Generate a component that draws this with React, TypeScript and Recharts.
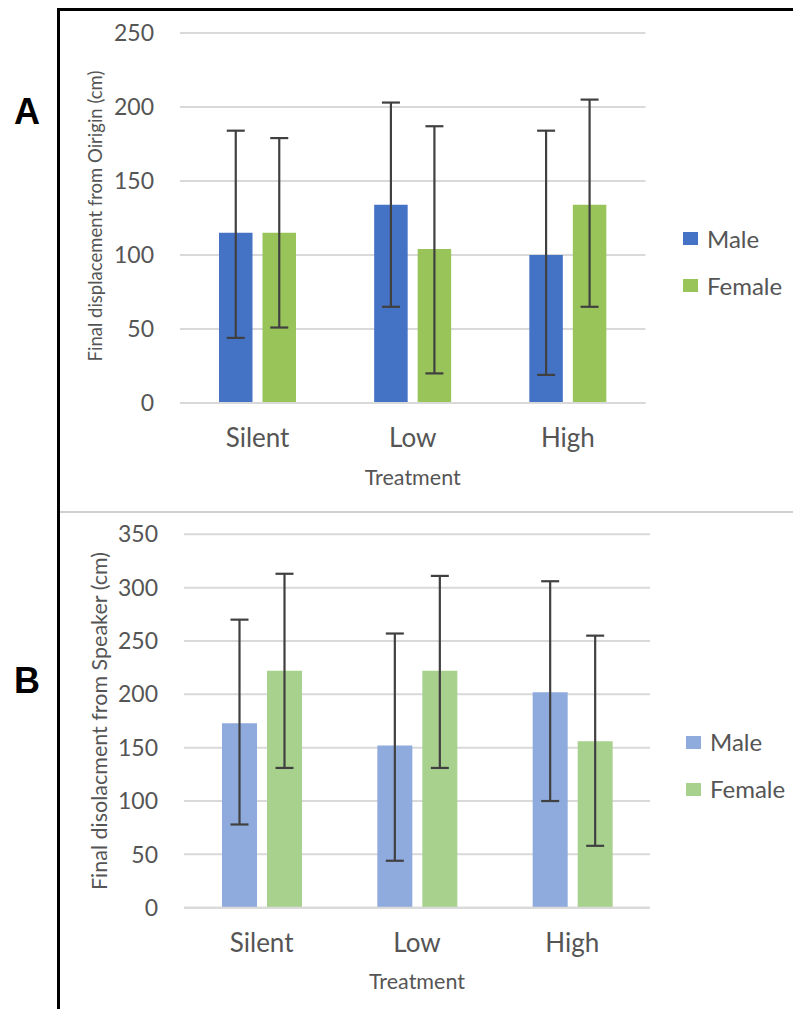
import React from "react";
import { BarChart, Bar, XAxis, YAxis, CartesianGrid, ErrorBar, Legend, Label } from "recharts";

const treatments = ["Silent", "Low", "High"];

// Panel A: final displacement from origin (cm)
const originMale = [115, 134, 100];
const originMaleLow = [44, 65, 19];
const originMaleHigh = [184, 203, 184];
const originFemale = [115, 104, 134];
const originFemaleLow = [51, 20, 65];
const originFemaleHigh = [179, 187, 205];
const originTicks = [0, 50, 100, 150, 200, 250];

// Panel B: final displacement from speaker (cm)
const speakerMale = [173, 152, 202];
const speakerMaleLow = [78, 44, 100];
const speakerMaleHigh = [270, 257, 306];
const speakerFemale = [222, 222, 156];
const speakerFemaleLow = [131, 131, 58];
const speakerFemaleHigh = [313, 311, 255];
const speakerTicks = [0, 50, 100, 150, 200, 250, 300, 350];

const build = (m: number[], mLo: number[], mHi: number[], f: number[], fLo: number[], fHi: number[]) =>
  treatments.map((t, i) => ({
    treatment: t,
    Male: m[i],
    maleErr: [m[i] - mLo[i], mHi[i] - m[i]],
    Female: f[i],
    femaleErr: [f[i] - fLo[i], fHi[i] - f[i]],
  }));

const dataA = build(originMale, originMaleLow, originMaleHigh, originFemale, originFemaleLow, originFemaleHigh);
const dataB = build(speakerMale, speakerMaleLow, speakerMaleHigh, speakerFemale, speakerFemaleLow, speakerFemaleHigh);

const FONT = "Lato, 'Noto Sans', sans-serif";
const TXT = "#555555";
const GRID = "#d9d9d9";
const ERR = "#404040";

const makeLegend = (colors: [string, string]) => () => (
  <div style={{ fontFamily: FONT }}>
    {["Male", "Female"].map((name, i) => (
      <div key={name} style={{ display: "flex", alignItems: "center", height: 47 }}>
        <div style={{ width: 15, height: 13, background: colors[i], marginRight: 9 }} />
        <span style={{ fontSize: 24, color: TXT, lineHeight: "24px" }}>{name}</span>
      </div>
    ))}
  </div>
);

const yTitle = (text: string, x: number, y: number, size: number) => () => (
  <text
    x={x}
    y={y}
    transform={`rotate(-90 ${x} ${y})`}
    textAnchor="middle"
    dominantBaseline="central"
    fill={TXT}
    fontFamily={FONT}
    fontSize={size}
  >
    {text}
  </text>
);

export default function App() {
  const maleA = "#4472C4";
  const femaleA = "#99C45A";
  const maleB = "#8FAADC";
  const femaleB = "#A9D18E";
  return (
    <div style={{ position: "absolute", left: 0, top: 0, width: 793, height: 1009, background: "#fff" }}>
      {/* frame */}
      <div style={{ position: "absolute", left: 57, top: 8, width: 3, height: 1001, background: "#000" }} />
      <div style={{ position: "absolute", left: 57, top: 8, width: 736, height: 3, background: "#000" }} />
      <div style={{ position: "absolute", left: 60, top: 511, width: 733, height: 2, background: "#d0d0d0" }} />
      <div style={{ position: "absolute", left: 9, top: 93, width: 36, textAlign: "center", fontFamily: "'Liberation Sans', Arial, sans-serif", fontWeight: "bold", fontSize: 36, lineHeight: "38px", color: "#000" }}>A</div>
      <div style={{ position: "absolute", left: 9, top: 662, width: 36, textAlign: "center", fontFamily: "'Liberation Sans', Arial, sans-serif", fontWeight: "bold", fontSize: 36, lineHeight: "38px", color: "#000" }}>B</div>

      <div style={{ position: "absolute", left: 0, top: 0 }}>
        <BarChart width={793} height={510} data={dataA} margin={{ top: 33, right: 147.5, bottom: 17, left: 120 }} barSize={33.5} barGap={10}>
          <CartesianGrid vertical={false} stroke={GRID} strokeWidth={2} />
          <XAxis
            dataKey="treatment"
            height={90}
            tickLine={false}
            tickSize={0}
            tickMargin={26}
            axisLine={{ stroke: GRID, strokeWidth: 2 }}
            tick={{ fill: TXT, fontSize: 26, fontFamily: FONT }}
          >
            <Label value="Treatment" position="insideBottom" offset={8.5} fill={TXT} fontSize={21.5} fontFamily={FONT} />
          </XAxis>
          <YAxis
            width={60}
            domain={[0, 250]}
            ticks={originTicks}
            interval={0}
            tickLine={false}
            axisLine={false}
            tickSize={0}
            tickMargin={26}
            tick={{ fill: TXT, fontSize: 23, fontFamily: FONT }}
          >
            <Label content={yTitle("Final displacement from Oirigin (cm)", 95, 216, 18.5)} />
          </YAxis>
          <Legend layout="vertical" align="center" verticalAlign="middle" wrapperStyle={{ left: 683, top: 215, width: 110 }} content={makeLegend([maleA, femaleA])} />
          <Bar dataKey="Male" fill={maleA} isAnimationActive={false}>
            <ErrorBar dataKey="maleErr" width={9} strokeWidth={2.2} stroke={ERR} />
          </Bar>
          <Bar dataKey="Female" fill={femaleA} isAnimationActive={false}>
            <ErrorBar dataKey="femaleErr" width={9} strokeWidth={2.2} stroke={ERR} />
          </Bar>
        </BarChart>
      </div>

      <div style={{ position: "absolute", left: 0, top: 510 }}>
        <BarChart width={793} height={499} data={dataB} margin={{ top: 24.3, right: 143, bottom: 11.3, left: 124 }} barSize={35} barGap={10}>
          <CartesianGrid vertical={false} stroke={GRID} strokeWidth={2} />
          <XAxis
            dataKey="treatment"
            height={90}
            tickLine={false}
            tickSize={0}
            tickMargin={26}
            axisLine={{ stroke: GRID, strokeWidth: 2 }}
            tick={{ fill: TXT, fontSize: 26, fontFamily: FONT }}
          >
            <Label value="Treatment" position="insideBottom" offset={8.5} fill={TXT} fontSize={21.5} fontFamily={FONT} />
          </XAxis>
          <YAxis
            width={60}
            domain={[0, 350]}
            ticks={speakerTicks}
            interval={0}
            tickLine={false}
            axisLine={false}
            tickSize={0}
            tickMargin={26}
            tick={{ fill: TXT, fontSize: 23, fontFamily: FONT }}
          >
            <Label content={yTitle("Final disolacment from Speaker (cm)", 99, 211, 21.5)} />
          </YAxis>
          <Legend layout="vertical" align="center" verticalAlign="middle" wrapperStyle={{ left: 686, top: 208.5, width: 107 }} content={makeLegend([maleB, femaleB])} />
          <Bar dataKey="Male" fill={maleB} isAnimationActive={false}>
            <ErrorBar dataKey="maleErr" width={9} strokeWidth={2.2} stroke={ERR} />
          </Bar>
          <Bar dataKey="Female" fill={femaleB} isAnimationActive={false}>
            <ErrorBar dataKey="femaleErr" width={9} strokeWidth={2.2} stroke={ERR} />
          </Bar>
        </BarChart>
      </div>
    </div>
  );
}
